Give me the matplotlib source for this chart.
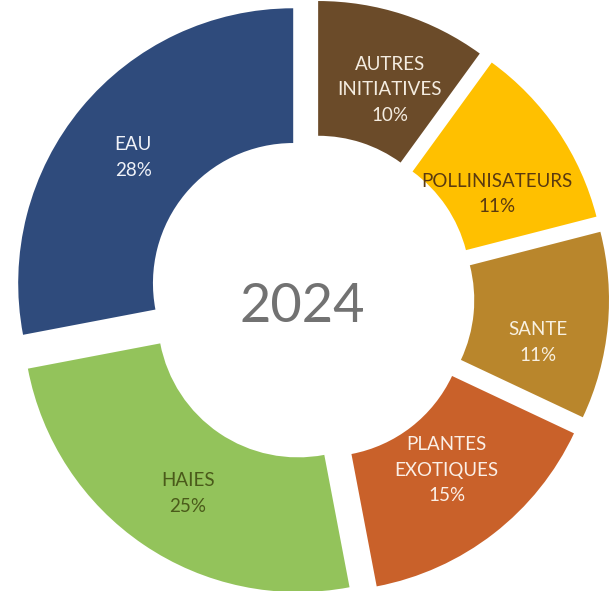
import numpy as np
import matplotlib
matplotlib.use("Agg")
from matplotlib import pyplot as plt

# data, clockwise from the top
categories = ["AUTRES\nINITIATIVES", "POLLINISATEURS", "SANTE",
              "PLANTES\nEXOTIQUES", "HAIES", "EAU"]
values = [10, 11, 11, 15, 25, 28]
year = "2024"

colors = ["#6B4B29", "#FFC000", "#B9862C", "#C9612A", "#93C35B", "#2F4B7C"]
text_colors = ["#F4ECE0", "#5A3A10", "#F8F0E0", "#FBEFE6", "#4A5A1A", "#F0F2F8"]
# where excel put the labels (angle shift from mid slice, radius)
lab_shift = [-3, -5.6, -6.3, 0.5, 2.2, 1.4]
lab_r = [0.726, 0.69, 0.756, 0.713, 0.756, 0.74]

fig = plt.figure(figsize=(6.13, 5.91), dpi=100)
ax = fig.add_axes([0, 0, 1, 1])

wedges, _ = ax.pie(values, colors=colors, startangle=90, counterclock=False,
                   radius=1.0, explode=[0.084] * len(values),
                   wedgeprops=dict(width=0.49, linewidth=0))

for w, cat, v, tc, da, r in zip(wedges, categories, values, text_colors,
                                lab_shift, lab_r):
    ang = np.deg2rad((w.theta1 + w.theta2) / 2 + da)
    cx, cy = w.center
    ax.text(cx + r * np.cos(ang), cy + r * np.sin(ang), f"{cat}\n{v}%",
            ha="center", va="center", color=tc, fontsize=13.5,
            family="Lato", linespacing=1.6)

ax.text(-0.03, -0.03, year, ha="center", va="center", fontsize=39,
        color="#727272", family="Lato")

ax.set_xlim(-311 / 275, 302 / 275)
ax.set_ylim(-293 / 275, 298 / 275)
ax.set_aspect("auto")
ax.axis("off")

fig.savefig("out.png", dpi=100, facecolor="white")
